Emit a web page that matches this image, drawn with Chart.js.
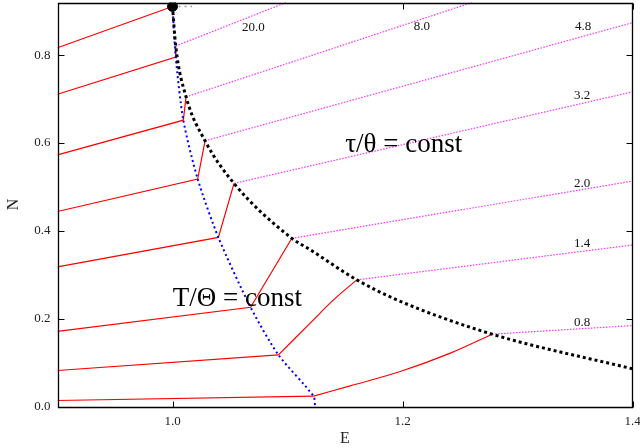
<!DOCTYPE html>
<html lang="en">
<head>
<meta charset="UTF-8">
<title>N vs E</title>
<script src="https://cdn.jsdelivr.net/npm/chart.js"></script>
<style>
  html, body { margin: 0; padding: 0; background: #fff; overflow: hidden; }
  canvas { display: block; }
</style>
</head>
<body>
<canvas id="chart" width="640" height="448"></canvas>
<script>
// axis ticks
const xTicks = [1.0, 1.2, 1.4];
const yTicks = [0.0, 0.2, 0.4, 0.6, 0.8];

// red lines: start on the left edge, kink on the blue curve
const redStartE = 0.9;
const redStartN = [0.817, 0.711, 0.573, 0.444, 0.318, 0.171, 0.082, 0.0137];
const kinkE = [1.0, 1.0028, 1.0094, 1.0219, 1.0399, 1.0679, 1.0921, 1.1226];
const kinkN = [0.911, 0.796, 0.652, 0.518, 0.385, 0.226, 0.1176, 0.0237];

// curved red parts of the two lowest lines
const red7E = [1.0921, 1.1197, 1.14, 1.1603];
const red7N = [0.1176, 0.1897, 0.2427, 0.2884];
const red8E = [1.1226, 1.1545, 1.198, 1.2416, 1.2779];
const red8N = [0.0237, 0.0471, 0.0796, 0.1215, 0.1647];

// blue curve (T/Theta = const) ends on the axis here
const blueEndE = 1.124;
const blueEndN = 0.0;

// black dotted curve (tau/theta = const)
const blackE = [1.0, 1.0028, 1.0118, 1.0283, 1.0535, 1.1038, 1.1197, 1.1603, 1.1952, 1.2779, 1.4];
const blackN = [0.911, 0.821, 0.705, 0.605, 0.508, 0.383, 0.357, 0.2884, 0.2427, 0.1647, 0.0858];

// magenta lines start on the black curve
const magStartE = [1.0028, 1.0118, 1.0283, 1.0535, 1.1038, 1.1603, 1.2779];
const magStartN = [0.821, 0.705, 0.605, 0.508, 0.383, 0.2884, 0.1647];
const magEndE = [1.0988, 1.2605, 1.4, 1.4, 1.4, 1.4, 1.4];
const magEndN = [0.92, 0.92, 0.874, 0.7166, 0.5134, 0.3678, 0.1843];
const magLabels = ['20.0', '8.0', '4.8', '3.2', '2.0', '1.4', '0.8'];
const magLabelE = [1.0703, 1.2169, 1.3571, 1.3562, 1.3562, 1.3562, 1.3562];
const magLabelN = [0.864, 0.8644, 0.8644, 0.709, 0.508, 0.3717, 0.191];

// big annotations (left edge, baseline)
const notes = ['\u03c4/\u03b8 = const', 'T/\u0398 = const'];
const noteE = [1.1502, 1.0002];
const noteN = [0.5787, 0.229];

const pts = (xs, ys) => xs.map((v, i) => ({x: v, y: ys[i]}));

const datasets = [];

// top point
datasets.push({
  data: [{x: kinkE[0], y: kinkN[0]}],
  showLine: false, pointRadius: 5, pointBackgroundColor: '#000', pointBorderColor: '#000'
});
// short gray dots next to it
datasets.push({
  data: [{x: kinkE[0], y: kinkN[0]}, {x: 1.017, y: kinkN[0]}],
  showLine: true, pointRadius: 0, borderColor: '#999', borderWidth: 1.5, borderDash: [2, 4]
});
// black curve
datasets.push({
  data: pts(blackE, blackN),
  showLine: true, pointRadius: 0, borderColor: '#000', borderWidth: 3,
  borderDash: [3, 3], cubicInterpolationMode: 'monotone'
});
// blue curve
datasets.push({
  data: pts(kinkE.concat([blueEndE]), kinkN.concat([blueEndN])),
  showLine: true, pointRadius: 0, borderColor: '#0000ff', borderWidth: 2,
  borderDash: [2, 3], tension: 0.25
});
// magenta lines
magStartE.forEach((e, i) => {
  datasets.push({
    data: [{x: e, y: magStartN[i]}, {x: magEndE[i], y: magEndN[i]}],
    showLine: true, pointRadius: 0, borderColor: '#ff33ff', borderWidth: 1.2, borderDash: [1.5, 1.5]
  });
});
// red lines
redStartN.forEach((n, i) => {
  const d = [{x: redStartE, y: n}, {x: kinkE[i], y: kinkN[i]}];
  if (i >= 1 && i <= 5) d.push({x: magStartE[i - 1], y: magStartN[i - 1]});
  datasets.push({data: d, showLine: true, pointRadius: 0, borderColor: '#ff0000', borderWidth: 1.2});
});
datasets.push({data: pts(red7E, red7N), showLine: true, pointRadius: 0, borderColor: '#ff0000', borderWidth: 1.2, tension: 0.4});
datasets.push({data: pts(red8E, red8N), showLine: true, pointRadius: 0, borderColor: '#ff0000', borderWidth: 1.2, tension: 0.4});

const serif = "'Liberation Serif', 'DejaVu Serif', serif";

// inward ticks, frame and text labels
const decor = {
  id: 'decor',
  afterDraw(chart) {
    const {ctx, scales: {x, y}} = chart;
    const L = Math.round(x.getPixelForValue(0.9)) + 0.5;
    const R = Math.round(x.getPixelForValue(1.4)) - 0.5;
    const B = Math.round(y.getPixelForValue(0)) + 0.5;
    const T = Math.round(y.getPixelForValue(0.92)) + 0.5;
    ctx.save();
    ctx.strokeStyle = '#000';
    ctx.lineWidth = 1;
    ctx.beginPath();
    xTicks.forEach(v => {
      const p = Math.round(x.getPixelForValue(v)) + 0.5;
      ctx.moveTo(p, B); ctx.lineTo(p, B - 6);
      ctx.moveTo(p, T); ctx.lineTo(p, T + 6);
    });
    yTicks.forEach(v => {
      const p = Math.round(y.getPixelForValue(v)) + 0.5;
      ctx.moveTo(L, p); ctx.lineTo(L + 6, p);
      ctx.moveTo(R, p); ctx.lineTo(R - 6, p);
    });
    ctx.stroke();
    ctx.lineWidth = 1.3;
    ctx.beginPath();
    ctx.moveTo(L, T); ctx.lineTo(R, T); ctx.lineTo(R, B); ctx.lineTo(L, B); ctx.closePath();
    ctx.stroke();

    ctx.fillStyle = '#111';
    ctx.font = '13px ' + serif;
    ctx.textAlign = 'center';
    ctx.textBaseline = 'middle';
    magLabels.forEach((t, i) => {
      ctx.fillText(t, x.getPixelForValue(magLabelE[i]), y.getPixelForValue(magLabelN[i]));
    });
    ctx.fillStyle = '#000';
    ctx.font = '27px ' + serif;
    ctx.textAlign = 'left';
    ctx.textBaseline = 'alphabetic';
    notes.forEach((t, i) => {
      ctx.fillText(t, x.getPixelForValue(noteE[i]), y.getPixelForValue(noteN[i]));
    });
    ctx.restore();
  }
};

new Chart(document.getElementById('chart'), {
  type: 'scatter',
  data: {datasets: datasets},
  plugins: [decor],
  options: {
    responsive: false,
    animation: false,
    layout: {autoPadding: false, padding: {top: 2.5, right: 7.5, left: 0, bottom: 0}},
    plugins: {legend: {display: false}, tooltip: {enabled: false}},
    scales: {
      x: {
        type: 'linear', min: 0.9, max: 1.4,
        grid: {display: false, drawTicks: false}, border: {display: false},
        afterBuildTicks: s => { s.ticks = xTicks.map(v => ({value: v})); },
        afterFit: s => { s.height = 41.5; s.paddingLeft = 0; s.paddingRight = 0; },
        ticks: {padding: 7, color: '#222', font: {family: serif, size: 13}, callback: v => v.toFixed(1)},
        title: {display: true, text: 'E', color: '#222', padding: {top: 0, bottom: 0}, font: {family: serif, size: 16}}
      },
      y: {
        type: 'linear', min: 0, max: 0.92,
        grid: {display: false, drawTicks: false}, border: {display: false},
        afterBuildTicks: s => { s.ticks = yTicks.map(v => ({value: v})); },
        afterFit: s => { s.width = 57.5; s.paddingTop = 0; s.paddingBottom = 0; },
        ticks: {padding: 7, color: '#222', font: {family: serif, size: 13}, callback: v => v.toFixed(1)},
        title: {display: true, text: 'N', color: '#222', padding: {top: 4, bottom: 0}, font: {family: serif, size: 16}}
      }
    }
  }
});
</script>
</body>
</html>
